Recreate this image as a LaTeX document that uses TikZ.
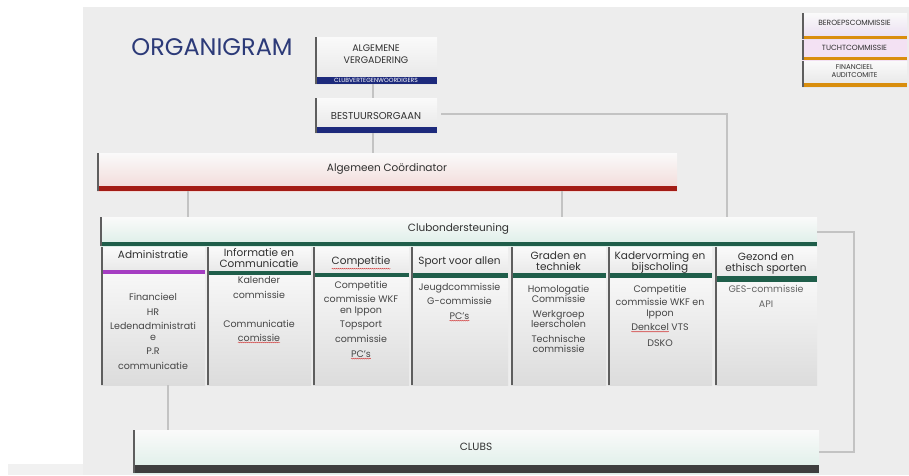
\documentclass[tikz,border=0pt]{standalone}
\usepackage{fontspec}
\setmainfont{Poppins}
\usetikzlibrary{decorations.pathmorphing}
\definecolor{slide}{HTML}{EDEDED}
\definecolor{strip}{HTML}{F1F1F1}
\definecolor{boxtop}{HTML}{FAFAFA}
\definecolor{boxbot}{HTML}{E6E6E6}
\definecolor{bodytop}{HTML}{F7F7F7}
\definecolor{bodybot}{HTML}{DCDCDC}
\definecolor{edgecol}{HTML}{5E5E5E}
\definecolor{conncol}{HTML}{C3C3C3}
\definecolor{navy}{HTML}{1D2A7C}
\definecolor{titleblue}{HTML}{2C3A78}
\definecolor{redband}{HTML}{A31C15}
\definecolor{pinkglow}{HTML}{F2D9D7}
\definecolor{greenband}{HTML}{1F5E4A}
\definecolor{mint}{HTML}{DCEEE7}
\definecolor{purpleband}{HTML}{A53DC2}
\definecolor{orangeband}{HTML}{D98E0E}
\definecolor{lavender}{HTML}{E9DDF0}
\definecolor{pinkbox}{HTML}{F3E1F3}
\definecolor{darkband}{HTML}{3E3E3E}
\definecolor{txt}{HTML}{303030}
\definecolor{sqred}{HTML}{D03030}
\newcommand\sq[1]{\tikz[baseline=(sqw.base)]{\node[inner sep=0pt,outer sep=0pt](sqw){#1};\draw[overlay,sqred,line width=0.35pt,decorate,decoration={snake,amplitude=0.45pt,segment length=2pt}]([yshift=-1.3pt]sqw.south west)--([yshift=-1.3pt]sqw.south east);}}
\begin{document}
\begin{tikzpicture}[x=1pt,y=-1pt,
  conn/.style={draw=conncol,line width=2pt},
  pbox/.style 2 args={rectangle,inner sep=0pt,outer sep=0pt,top color=boxtop,bottom color=boxbot,
    path picture={\fill[#1]([yshift=#2]path picture bounding box.south west) rectangle (path picture bounding box.south east);
      \draw[edgecol,line width=3pt](path picture bounding box.south west)--(path picture bounding box.north west);}},
  colbody/.style={rectangle,inner sep=0pt,outer sep=0pt,top color=bodytop,bottom color=bodybot,
    path picture={\draw[edgecol,line width=3pt](path picture bounding box.south west)--(path picture bounding box.north west);}},
  lbl/.style={inner sep=0pt,outer sep=0pt,align=center,text=txt},
  hd/.style={lbl,font=\fontsize{10.5}{11}\selectfont},
  bd/.style={lbl,anchor=north,font=\fontsize{9.5}{11}\selectfont,text=txt!90},
  tr/.style={lbl,font=\fontsize{7.5}{8}\selectfont},
]
% background
\fill[white] (0,0) rectangle (909,475);
\fill[slide] (83,7) rectangle (909,475);
\fill[strip] (8,464) rectangle (83,475);
\useasboundingbox (0,0) rectangle (909,475);

% title
\node[lbl,text=titleblue,font=\fontsize{24}{26}\selectfont] (title) at (212,47.5) {ORGANIGRAM};

% top boxes
\node[pbox={navy}{7pt},minimum width=122pt,minimum height=47pt] (av) at (376,60.5) {};
\node[lbl,font=\fontsize{9.5}{12}\selectfont] (avt) at (376,54) {ALGEMENE\\VERGADERING};
\node[lbl,text=white,font=\fontsize{6}{6}\selectfont] (avb) at (376,80.5) {CLUBVERTEGENWOORDIGERS};

\node[pbox={navy}{6pt},minimum width=122pt,minimum height=35pt] (bo) at (376,115.5) {};
\node[lbl,font=\fontsize{10}{12}\selectfont] (bot) at (376,116) {BESTUURSORGAAN};

\node[pbox={redband}{5pt},bottom color=pinkglow,minimum width=580pt,minimum height=38pt] (ac) at (387,172) {};
\node[hd] (act) at (387,169) {Algemeen Coördinator};

\node[pbox={greenband}{4pt},bottom color=mint,minimum width=717pt,minimum height=29pt] (cs) at (458.5,231.5) {};
\node[hd] (cst) at (458.5,229) {Clubondersteuning};

% column headers
\node[pbox={purpleband}{4pt},minimum width=104pt,minimum height=27pt] (h1) at (153,260.5) {};
\node[pbox={greenband}{4pt},minimum width=104pt,minimum height=28pt] (h2) at (259,261) {};
\node[pbox={greenband}{4pt},minimum width=96pt,minimum height=30pt] (h3) at (361,262) {};
\node[pbox={greenband}{5pt},minimum width=97pt,minimum height=31pt] (h4) at (459.5,262.5) {};
\node[pbox={greenband}{5pt},minimum width=95pt,minimum height=31pt] (h5) at (558.5,262.5) {};
\node[pbox={greenband}{5pt},minimum width=104pt,minimum height=31pt] (h6) at (660,262.5) {};
\node[pbox={greenband}{6pt},minimum width=102pt,minimum height=35pt] (h7) at (766,264.5) {};

\node[hd] (h1t) at (153,255) {Administratie};
\node[hd] (h2t) at (259,258.5) {Informatie en\\Communicatie};
\node[hd] (h3t) at (361,262) {\sq{Competitie}};
\node[hd] (h4t) at (459.5,262) {Sport voor allen};
\node[hd] (h5t) at (558.5,261.5) {Graden en\\techniek};
\node[hd] (h6t) at (660,262.5) {Kadervorming en\\bijscholing};
\node[hd] (h7t) at (766,263.5) {Gezond en\\ethisch sporten};

% column bodies
\node[colbody,minimum width=104pt,minimum height=111pt] (b1) at (153,329.5) {};
\node[colbody,minimum width=104pt,minimum height=110pt] (b2) at (259,330) {};
\node[colbody,minimum width=96pt,minimum height=108pt] (b3) at (361,331) {};
\node[colbody,minimum width=97pt,minimum height=107pt] (b4) at (459.5,331.5) {};
\node[colbody,minimum width=95pt,minimum height=107pt] (b5) at (558.5,331.5) {};
\node[colbody,minimum width=104pt,minimum height=107pt] (b6) at (660,331.5) {};
\node[colbody,minimum width=102pt,minimum height=103pt] (b7) at (766,333.5) {};

\node[bd] (b1t) at (153,293) {Financieel\\[4pt]HR\\[3pt]Ledenadministrati\\e\\[3pt]P.R\\[4pt]communicatie};
\node[bd] (b2t) at (259,276) {Kalender\\[4pt]commissie\\[18pt]Communicatie\\[3pt]\sq{comissie}};
\node[bd] (b3t) at (361,281) {Competitie\\[3pt]commissie WKF\\en Ippon\\[3pt]Topsport\\[4pt]commissie\\[4pt]\sq{PC’s}};
\node[bd] (b4t) at (459.5,283) {Jeugdcommissie\\[3pt]G-commissie\\[4pt]\sq{PC’s}};
\node[bd] (b5t) at (558.5,285) {Homologatie\\[-1pt]Commissie\\[4pt]Werkgroep\\[-1pt]leerscholen\\[4pt]Technische\\[-1pt]commissie};
\node[bd] (b6t) at (660,285) {Competitie\\[2pt]commissie WKF en\\Ippon\\[3pt]\sq{Denkcel} VTS\\[5pt]DSKO};
\node[bd,text=txt!75] (b7t) at (766,285) {GES-commissie\\[4pt]API};

% clubs
\node[pbox={darkband}{8pt},bottom color=mint,minimum width=686pt,minimum height=43pt] (clubs) at (476,451.5) {};
\node[hd] (clubst) at (476,447) {CLUBS};

% top-right committees
\node[pbox={orangeband}{3pt},bottom color=lavender,minimum width=105pt,minimum height=26pt] (t1) at (854.5,26) {};
\node[pbox={orangeband}{3pt},top color=pinkbox,bottom color=pinkbox,minimum width=105pt,minimum height=20pt] (t2) at (854.5,50) {};
\node[pbox={orangeband}{4pt},minimum width=105pt,minimum height=26pt] (t3) at (854.5,74) {};
\node[tr] (t1t) at (854.5,23) {BEROEPSCOMMISSIE};
\node[tr] (t2t) at (854.5,48) {TUCHTCOMMISSIE};
\node[tr,font=\fontsize{7}{7.5}\selectfont] (t3t) at (854.5,71) {FINANCIEEL\\AUDITCOMITE};

% connector anchor points
\coordinate (xc) at (373,0);
\coordinate (jA) at (727,114);
\coordinate (tL) at (188,0);
\coordinate (tR) at (562,0);
\coordinate (jB) at (854,300);
\coordinate (tD) at (168,0);

% connectors
\draw[conn] (av.south -| xc) -- (bo.north -| xc);
\draw[conn] (bo.south -| xc) -- (ac.north -| xc);
\draw[conn,shorten <=4pt] (bo.east |- jA) -| (cs.north -| jA);
\draw[conn] (ac.south -| tL) -- (cs.north -| tL);
\draw[conn] (ac.south -| tR) -- (cs.north -| tR);
\draw[conn] (cs.east) -| (jB) |- (clubs.east);
\draw[conn] (b1.south -| tD) -- (clubs.north -| tD);
\end{tikzpicture}
\end{document}
